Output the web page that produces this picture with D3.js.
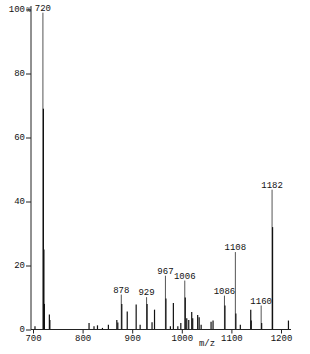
<!DOCTYPE html>
<html lang="en">

<head>
  <meta charset="UTF-8">
  <title>Mass spectrum</title>
  <script src="https://d3js.org/d3.v7.min.js"></script>
  <style>
    body { margin: 0; background: #fff; }
    text { font-family: "Liberation Mono", "DejaVu Sans Mono", monospace; font-size: 9px; fill: #111; }
  </style>
</head>

<body>
  <div id="root"></div>
  <script>
    // peaks (m/z, relative intensity %)
    const mz = [704, 720, 721, 722, 723, 733, 734, 813, 823, 830, 840, 852, 869, 871,
      878, 879, 890, 908, 916, 929, 930, 940, 945, 967, 968, 977, 983, 992, 998,
      1006, 1007, 1010, 1014, 1020, 1022, 1032, 1035, 1039, 1059, 1063,
      1086, 1087, 1108, 1109, 1118, 1139, 1140, 1160, 1161, 1182, 1183, 1215];
    const intensity = [1, 99, 69, 25, 8, 4.7, 3, 2, 1, 1.3, 0.5, 1.5, 3, 2.2,
      10.9, 8, 5.6, 7.8, 1.5, 10.1, 8, 2.3, 6.2, 16.8, 9.7, 1, 8.3, 1, 2,
      15.3, 10, 3.5, 3, 5.5, 3.5, 4.5, 3.8, 1.5, 2.4, 2.8,
      10.6, 7.5, 24.2, 5, 1.5, 6.2, 2.8, 7.5, 2, 43.7, 32, 2.8];
    const labelled = [720, 878, 929, 967, 1006, 1086, 1108, 1160, 1182];
    const xTicks = [700, 800, 900, 1000, 1100, 1200];
    const yTicks = [0, 20, 40, 60, 80, 100];

    const W = 310, H = 354;
    const svg = d3.select('#root').append('svg').attr('width', W).attr('height', H);

    const x = d3.scaleLinear().domain([700, 1200]).range([33, 281]);
    const y = d3.scaleLinear().domain([0, 100]).range([329.5, 9.5]);
    const base = 329.5;

    // peaks
    const peaks = mz.map((m, i) => ({ m, v: intensity[i] }));
    svg.append('g').selectAll('line').data(peaks).enter()
      .append('line')
      .attr('x1', d => x(d.m)).attr('x2', d => x(d.m))
      .attr('y1', base).attr('y2', d => y(d.v))
      .attr('stroke', d => labelled.includes(d.m) ? '#555' : '#111')
      .attr('stroke-width', d => labelled.includes(d.m) ? 1 : 1.2);

    // peak labels
    svg.append('g').selectAll('text').data(peaks.filter(d => labelled.includes(d.m))).enter()
      .append('text')
      .attr('x', d => x(d.m))
      .attr('y', d => y(d.v) - 2)
      .attr('text-anchor', 'middle')
      .text(d => d.m);

    // y axis
    const yAxis = svg.append('g').attr('transform', 'translate(31,0)');
    yAxis.call(d3.axisLeft(y).tickValues(d3.range(0, 101, 1)).tickSize(2).tickFormat(''))
      .call(g => g.select('.domain').remove());
    yAxis.call(d3.axisLeft(y).tickValues(yTicks).tickSize(5).tickPadding(1)
      .tickFormat(d => d))
      .call(g => g.select('.domain').remove());
    yAxis.selectAll('line').attr('stroke', '#222');
    yAxis.selectAll('text').attr('dy', '0.2em').attr('fill', '#111');
    yAxis.append('line').attr('x1', 0).attr('x2', 0).attr('y1', 6).attr('y2', base).attr('stroke', '#222');
    svg.append('text').attr('x', 26.5).attr('y', 12).style('font-size', '7px').text('%');

    // x axis
    const xAxis = svg.append('g').attr('transform', `translate(0,${base})`);
    xAxis.call(d3.axisBottom(x).tickValues(d3.range(700, 1221, 20)).tickSize(2).tickFormat(''))
      .call(g => g.select('.domain').remove());
    xAxis.call(d3.axisBottom(x).tickValues(xTicks).tickSize(4).tickPadding(1).tickFormat(d => d))
      .call(g => g.select('.domain').remove());
    xAxis.selectAll('line').attr('stroke', '#222');
    xAxis.selectAll('text').attr('fill', '#111');
    xAxis.append('line').attr('x1', 31).attr('x2', 291).attr('y1', 0).attr('y2', 0).attr('stroke', '#222');

    svg.append('text').attr('x', 207).attr('y', 346).attr('text-anchor', 'middle').text('m/z');
  </script>
</body>

</html>
